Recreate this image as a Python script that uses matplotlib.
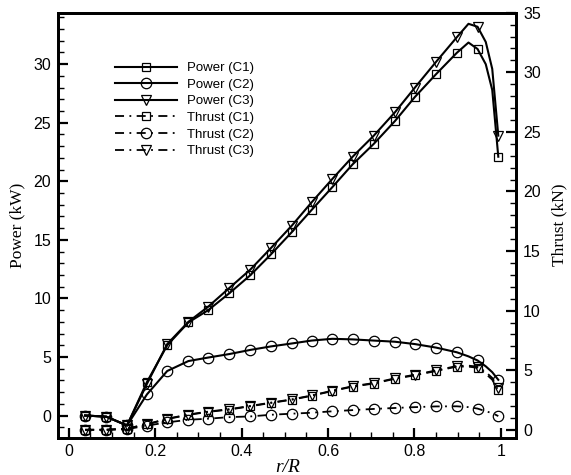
import matplotlib
matplotlib.use("Agg")
import matplotlib.pyplot as plt
from matplotlib.ticker import MultipleLocator

# ---- data ----
r = [0.038, 0.087, 0.135, 0.181, 0.228, 0.277, 0.323, 0.372, 0.420, 0.468, 0.516,
     0.562, 0.610, 0.657, 0.706, 0.755, 0.801, 0.850, 0.898, 0.925, 0.946, 0.965,
     0.980, 0.994]
mark_idx = list(range(19)) + [20, 23]

power_c1 = [0.0, -0.1, -0.85, 2.85, 6.0, 7.95, 9.0, 10.45, 11.97, 13.76, 15.65, 17.55,
            19.5, 21.45, 23.2, 25.15, 27.2, 29.15, 30.97, 31.85, 31.3, 30.0, 27.8, 22.1]
power_c2 = [0.0, -0.1, -0.85, 1.8, 3.8, 4.65, 4.95, 5.25, 5.6, 5.9, 6.15, 6.4,
            6.55, 6.5, 6.4, 6.3, 6.1, 5.8, 5.4, 5.05, 4.7, 4.2, 3.7, 3.05]
power_c3 = [0.0, -0.1, -0.85, 2.7, 6.1, 8.0, 9.3, 10.9, 12.45, 14.3, 16.2, 18.2,
            20.2, 22.1, 23.9, 25.9, 28.0, 30.2, 32.3, 33.45, 33.2, 31.9, 29.6, 23.9]
thrust_c1 = [0.0, 0.0, 0.1, 0.45, 0.9, 1.25, 1.5, 1.7, 1.97, 2.25, 2.52, 2.85,
             3.25, 3.62, 3.88, 4.28, 4.57, 4.93, 5.3, 5.3, 5.2, 4.7, 4.2, 3.3]
thrust_c2 = [0.0, 0.0, 0.05, 0.35, 0.62, 0.84, 0.93, 1.06, 1.12, 1.26, 1.35, 1.43,
             1.55, 1.65, 1.75, 1.83, 1.9, 1.96, 1.97, 1.9, 1.78, 1.55, 1.4, 1.15]
thrust_c3 = [0.0, 0.0, 0.1, 0.47, 0.93, 1.28, 1.53, 1.73, 2.0, 2.28, 2.55, 2.88,
             3.28, 3.66, 3.92, 4.32, 4.62, 4.98, 5.35, 5.38, 5.3, 4.85, 4.35, 3.5]

labels = ["Power (C1)", "Power (C2)", "Power (C3)",
          "Thrust (C1)", "Thrust (C2)", "Thrust (C3)"]

sans = "Liberation Sans"
serif = "Liberation Serif"

fig = plt.figure(figsize=(5.71, 4.75), dpi=100)
ax = fig.add_axes([0.1021, 0.0789, 0.9037 - 0.1021, 0.9733 - 0.0789])
ax2 = ax.twinx()

mew = 0.9
dash = (0, (5, 3, 1, 3))
styles = [
    (ax, power_c1, "s", 5.5, "-", 1.5),
    (ax, power_c2, "o", 7.5, "-", 1.5),
    (ax, power_c3, "v", 6.5, "-", 1.5),
    (ax2, thrust_c1, "s", 5.5, dash, 1.3),
    (ax2, thrust_c2, "o", 7.5, dash, 1.3),
    (ax2, thrust_c3, "v", 6.5, dash, 1.3),
]
handles = []
for (a, y, m, ms, ls, lw), lab in zip(styles, labels):
    h, = a.plot(r, y, color="black", lw=lw, linestyle=ls, marker=m, ms=ms,
                mfc="none", mec="black", mew=mew, markevery=mark_idx, label=lab)
    handles.append(h)

ax.set_xlim(-0.024, 1.035)
ax.set_ylim(-1.88, 34.4)
ax2.set_ylim(-0.65, 35.0)

ax.xaxis.set_major_locator(MultipleLocator(0.2))
ax.xaxis.set_minor_locator(MultipleLocator(0.05))
ax.yaxis.set_major_locator(MultipleLocator(5))
ax.yaxis.set_minor_locator(MultipleLocator(1))
ax2.yaxis.set_major_locator(MultipleLocator(5))
ax2.yaxis.set_minor_locator(MultipleLocator(1))

for a in (ax, ax2):
    for s in a.spines.values():
        s.set_linewidth(2.0)

ax.tick_params(axis="both", which="major", direction="in", length=7, width=1.6,
               labelsize=11.5, pad=5, top=False, right=False)
ax.tick_params(axis="both", which="minor", direction="in", length=4, width=1.0,
               top=False, right=False)
ax2.tick_params(axis="y", which="major", direction="in", length=7, width=1.6,
                labelsize=11.5, pad=5)
ax2.tick_params(axis="y", which="minor", direction="in", length=4, width=1.0)

ax.xaxis.set_major_formatter(plt.FuncFormatter(lambda v, p: f"{v:g}"))
for lab in ax.get_xticklabels() + ax.get_yticklabels() + ax2.get_yticklabels():
    lab.set_fontfamily(sans)

ax.set_xlabel("r/R", fontfamily=serif, fontstyle="italic", fontsize=14, labelpad=0)
ax.set_ylabel("Power (kW)", fontfamily=serif, fontsize=12.5, labelpad=6)
ax2.set_ylabel("Thrust (kN)", fontfamily=serif, fontsize=12.5, labelpad=8,
               rotation=90)

leg = ax.legend(handles=handles, loc="upper left", bbox_to_anchor=(0.124, 0.884),
                frameon=False, prop={"family": sans, "size": 9.5},
                handlelength=4.7, handletextpad=0.76, labelspacing=0.33,
                borderpad=0, borderaxespad=0)

fig.savefig("out.png", dpi=100)
